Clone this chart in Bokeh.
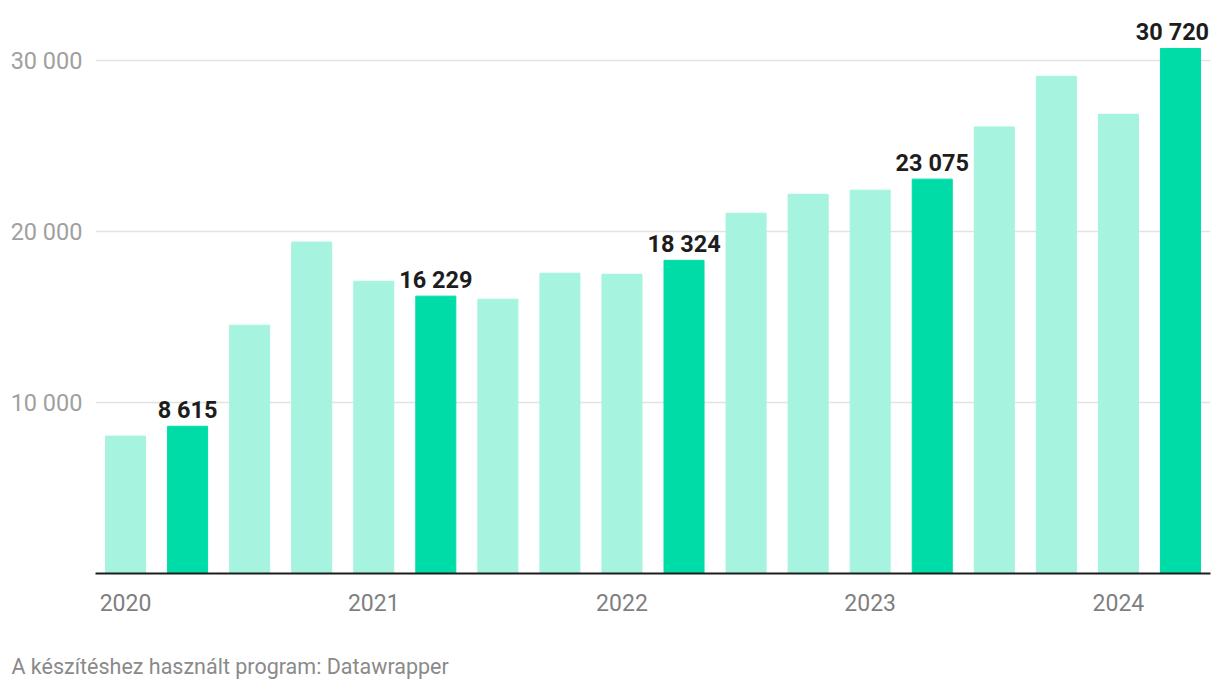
from bokeh.plotting import figure
from bokeh.models import ColumnDataSource, FixedTicker, Range1d, Title
from bokeh.embed import file_html
from bokeh.resources import INLINE
from bokeh.core.properties import value

# Data
quarters = ["2020 Q1", "2020 Q2", "2020 Q3", "2020 Q4",
            "2021 Q1", "2021 Q2", "2021 Q3", "2021 Q4",
            "2022 Q1", "2022 Q2", "2022 Q3", "2022 Q4",
            "2023 Q1", "2023 Q2", "2023 Q3", "2023 Q4",
            "2024 Q1", "2024 Q2"]
values = [8040, 8615, 14530, 19390, 17100, 16229, 16050, 17570, 17510,
          18324, 21080, 22190, 22430, 23075, 26130, 29090, 26870, 30720]
highlighted = [False, True, False, False, False, True, False, False, False,
               True, False, False, False, True, False, False, False, True]
year_labels = ["2020", "2021", "2022", "2023", "2024"]
y_ticks = [10000, 20000, 30000]
footer_text = "A készítéshez használt program: Datawrapper"

LIGHT = "#a6f3df"
DARK = "#00dca7"

xs = list(range(len(values)))
colors = [DARK if h else LIGHT for h in highlighted]

def fmt(v):
    return f"{v:,}".replace(",", " ")

src = ColumnDataSource(dict(x=xs, top=values, color=colors))

lab_x = [x for x, h in zip(xs, highlighted) if h]
lab_y = [v for v, h in zip(values, highlighted) if h]
lab_t = [fmt(v) for v, h in zip(values, highlighted) if h]
lab_off = [0.0] * len(lab_x)
lab_off[-1] = -8.0
lab_src = ColumnDataSource(dict(x=lab_x, y=lab_y, t=lab_t, off=lab_off))

p = figure(width=1220, height=696, output_backend="svg", toolbar_location=None,
           x_range=Range1d(-0.484, len(values) - 1 + 0.484),
           y_range=Range1d(0, 33000),
           min_border_left=95, min_border_right=10, min_border_top=9,
           min_border_bottom=123)
p.outline_line_color = None
p.background_fill_color = "white"
p.border_fill_color = "white"

p.vbar(x="x", top="top", bottom=0, width=40 / 62, color="color", source=src)

p.text(x="x", y="y", text="t", source=lab_src, x_offset="off", y_offset=-16,
       text_align="center", text_baseline="alphabetic",
       text_font=value("Roboto"), text_font_style="bold",
       text_font_size="23.5px", text_color="#1d1d1d")

# Y axis
p.yaxis.ticker = FixedTicker(ticks=y_ticks)
p.yaxis.major_label_overrides = {t: fmt(t) for t in y_ticks}
p.yaxis.axis_line_color = None
p.yaxis.major_tick_line_color = None
p.yaxis.minor_tick_line_color = None
p.yaxis.major_label_standoff = 7
p.yaxis.major_label_text_font = "Roboto"
p.yaxis.major_label_text_font_size = "23.5px"
p.yaxis.major_label_text_color = "#a0a0a0"
p.ygrid.ticker = FixedTicker(ticks=y_ticks)
p.ygrid.grid_line_color = "#e3e3e3"
p.ygrid.grid_line_width = 1.5
p.xgrid.grid_line_color = None

# X axis
year_pos = [xs[quarters.index(y + " Q1")] for y in year_labels]
p.xaxis.ticker = FixedTicker(ticks=year_pos)
p.xaxis.major_label_overrides = {xp: y for xp, y in zip(year_pos, year_labels)}
p.xaxis.axis_line_color = "#1d1d1d"
p.xaxis.axis_line_width = 2
p.xaxis.major_tick_line_color = None
p.xaxis.minor_tick_line_color = None
p.xaxis.major_label_standoff = 14
p.xaxis.major_label_text_font = "Roboto"
p.xaxis.major_label_text_font_size = "23px"
p.xaxis.major_label_text_color = "#7f7f7f"

footer = Title(text="\n" + footer_text, align="left", vertical_align="top",
               text_font="Roboto", text_font_size="21.5px", text_font_style="normal",
               text_color="#8a8a8a", offset=-84, standoff=30)
p.add_layout(footer, "below")

open("out.html", "w").write(file_html(p, INLINE))
